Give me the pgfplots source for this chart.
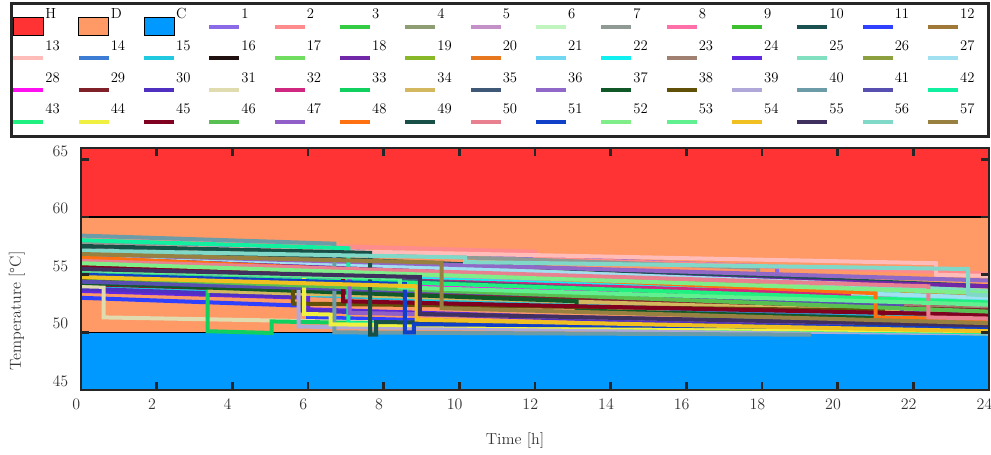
\documentclass[border=0pt]{standalone}
\usepackage{fontspec}
\usepackage{pgfplots}
\pgfplotsset{compat=1.18}
\definecolor{Hc}{HTML}{FF3333}
\definecolor{Dc}{HTML}{FF9966}
\definecolor{Cc}{HTML}{0099FF}
\definecolor{c1}{HTML}{8A6AE6}\definecolor{c2}{HTML}{FF8C8C}\definecolor{c3}{HTML}{33CC44}
\definecolor{c4}{HTML}{8E9E72}\definecolor{c5}{HTML}{C490C8}\definecolor{c6}{HTML}{C0F5C0}
\definecolor{c7}{HTML}{909A94}\definecolor{c8}{HTML}{FF70A8}\definecolor{c9}{HTML}{3CC030}
\definecolor{c10}{HTML}{1A5050}\definecolor{c11}{HTML}{3040FF}\definecolor{c12}{HTML}{A07838}
\definecolor{c13}{HTML}{FFBCB8}\definecolor{c14}{HTML}{3C7CD4}\definecolor{c15}{HTML}{20C8E0}
\definecolor{c16}{HTML}{201010}\definecolor{c17}{HTML}{70DC60}\definecolor{c18}{HTML}{7028A8}
\definecolor{c19}{HTML}{88B828}\definecolor{c20}{HTML}{E87820}\definecolor{c21}{HTML}{70D8F0}
\definecolor{c22}{HTML}{10F0F0}\definecolor{c23}{HTML}{A08070}\definecolor{c24}{HTML}{6028E0}
\definecolor{c25}{HTML}{80E0C0}\definecolor{c26}{HTML}{8CA040}\definecolor{c27}{HTML}{A0E0F0}
\definecolor{c28}{HTML}{FF10F0}\definecolor{c29}{HTML}{802028}\definecolor{c30}{HTML}{5030C0}
\definecolor{c31}{HTML}{E0DCB0}\definecolor{c32}{HTML}{D02880}\definecolor{c33}{HTML}{10D060}
\definecolor{c34}{HTML}{D4B860}\definecolor{c35}{HTML}{405878}\definecolor{c36}{HTML}{9068C8}
\definecolor{c37}{HTML}{105828}\definecolor{c38}{HTML}{605008}\definecolor{c39}{HTML}{B0A8D8}
\definecolor{c40}{HTML}{6C9CA8}\definecolor{c41}{HTML}{5850B0}\definecolor{c42}{HTML}{10F0A0}
\definecolor{c43}{HTML}{20F080}\definecolor{c44}{HTML}{F0F040}\definecolor{c45}{HTML}{800020}
\definecolor{c46}{HTML}{58C050}\definecolor{c47}{HTML}{9060C8}\definecolor{c48}{HTML}{FF7010}
\definecolor{c49}{HTML}{185048}\definecolor{c50}{HTML}{E88090}\definecolor{c51}{HTML}{1040C8}
\definecolor{c52}{HTML}{80EE88}\definecolor{c53}{HTML}{60F090}\definecolor{c54}{HTML}{F0C020}
\definecolor{c55}{HTML}{403060}\definecolor{c56}{HTML}{80D8C8}\definecolor{c57}{HTML}{988040}
\definecolor{axc}{HTML}{262626}
\newcommand{\LE}[1]{\raisebox{5.75pt}[15pt][8.75pt]{\makebox[23.5pt][l]{#1}}}
\newcommand{\LL}[1]{\raisebox{5.75pt}[15pt][8.75pt]{\makebox[21pt][l]{#1}}}
\newcommand{\ser}[3]{\addplot[#1, line width=3pt] coordinates {#2}; \addlegendentry{#3}}
\begin{document}
\begin{tikzpicture}
\path[use as bounding box] (-60.75pt,-48pt) rectangle (682.5pt,292.5pt);
\begin{axis}[
  at={(0pt,0pt)}, anchor=south west,
  scale only axis, width=681pt, height=181.5pt,
  xmin=0, xmax=24, ymin=45, ymax=66,
  xtick={0,2,...,24}, ytick={45,50,55,60,65},
  tick pos=both, tick align=inside, major tick length=6pt,
  axis on top,
  axis line style={draw=axc, line width=2pt},
  every tick/.style={draw=axc, line width=2pt},
  no markers,
  /pgf/number format/assume math mode=true,
  ticklabel style={font=\fontsize{12}{14}\selectfont, text=black!80},
  yticklabel style={yshift=6.5pt, xshift=-6pt},
  xticklabel style={xshift=-3.5pt, yshift=-3pt},
  xlabel={Time [h]}, ylabel={Temperature [°C]},
  label style={font=\fontsize{12}{14}\selectfont, text=black!80},
  x label style={at={(axis description cs:0.478,-0.207)}, anchor=center},
  y label style={at={(axis description cs:-0.0705,0.326)}, anchor=center},
  legend columns=15,
  legend style={at={(axis description cs:-0.0782,1.603)}, anchor=north west,
    draw=axc, line width=2.2pt, inner xsep=0pt, inner ysep=2.25pt,
    font=\fontsize{11}{13}\selectfont, column sep=0pt, row sep=0pt,
    nodes={inner sep=0pt, text depth=}, cells={anchor=base west}},
  legend image code/.code={\draw[#1, line width=3pt] (0pt,0pt) -- (22.5pt,0pt);},
]
\addplot[fill=Hc, draw=black, line width=1pt, legend image code/.code={\draw[fill=Hc, draw=black, line width=0.8pt] (0pt,-7pt) rectangle (22.5pt,7pt);}] coordinates {(0,60) (24,60) (24,66) (0,66) (0,60)};
\addlegendentry{\LE{H}}
\addplot[fill=Dc, draw=black, line width=1pt, legend image code/.code={\draw[fill=Dc, draw=black, line width=0.8pt] (0pt,-7pt) rectangle (22.5pt,7pt);}] coordinates {(0,50) (24,50) (24,60) (0,60) (0,50)};
\addlegendentry{\LE{D}}
\addplot[fill=Cc, draw=black, line width=1pt, legend image code/.code={\draw[fill=Cc, draw=black, line width=0.8pt] (0pt,-7pt) rectangle (22.5pt,7pt);}] coordinates {(0,45) (24,45) (24,50) (0,50) (0,45)};
\addlegendentry{\LE{C}}
\ser{c1}{(0,57.9)(18.4,55.7)(18.4,54.6)(24,54.0)}{\LE{1}}
\ser{c2}{(0,58.1)(12,57.0)(12,56.4)(24,55.1)}{\LE{2}}
\ser{c3}{(0,55.3)(16.1,53.3)(16.1,51.7)(24,50.9)}{\LE{3}}
\ser{c4}{(0,56.0)(17.8,53.7)(17.8,52.0)(24,51.4)}{\LE{4}}
\ser{c5}{(0,55.8)(24,52.9)}{\LE{5}}
\ser{c6}{(0,55.0)(24,52.2)}{\LE{6}}
\ser{c7}{(0,57.7)(17.9,55.6)(17.9,52.6)(24,52.0)}{\LE{7}}
\ser{c8}{(0,56.3)(17.2,54.4)(17.2,53.6)(24,53.0)}{\LE{8}}
\ser{c9}{(0,54.6)(16.0,52.7)(16.0,51.5)(24,50.6)}{\LE{9}}
\ser{c10}{(0,57.3)(24,54.0)}{\LE{10}}
\ser{c11}{(0,53.0)(6.0,52.3)(6.0,51.3)(22.6,50.0)}{\LE{11}}
\ser{c12}{(0,56.6)(15.3,54.7)(15.3,53.2)(24,52.0)}{\LL{12}}
\ser{c13}{(0,57.5)(22.6,56.0)(22.6,55.0)(24,54.9)}{\LE{13}}
\ser{c14}{(0,54.0)(24,51.0)}{\LE{14}}
\ser{c15}{(0,53.9)(24,51.3)}{\LE{15}}
\ser{c16}{(0,55.0)(0.3,54.95)(0.3,55.6)(14.2,53.7)(14.2,52.8)(24,51.6)}{\LE{16}}
\ser{c17}{(0,55.6)(24,52.5)}{\LE{17}}
\ser{c18}{(0,56.4)(24,54.0)}{\LE{18}}
\ser{c19}{(0,54.8)(24,51.9)}{\LE{19}}
\ser{c20}{(0,56.3)(24,53.3)}{\LE{20}}
\ser{c21}{(0,56.1)(21.6,53.6)(21.6,53.0)(24,52.7)}{\LE{21}}
\ser{c22}{(0,55.6)(24,53.0)}{\LE{22}}
\ser{c23}{(0,55.1)(15.2,53.4)(15.2,52.8)(24,52.0)}{\LE{23}}
\ser{c24}{(0,53.6)(6.0,53.0)(6.0,52.0)(24,50.2)}{\LE{24}}
\ser{c25}{(0,57.0)(24,53.6)}{\LE{25}}
\ser{c26}{(0,54.4)(24,51.4)}{\LE{26}}
\ser{c27}{(0,56.8)(20.4,54.2)(20.4,53.4)(24,53.0)}{\LL{27}}
\ser{c28}{(0,54.5)(12,53.9)(24,51.7)}{\LE{28}}
\ser{c29}{(0,54.2)(12,53.0)(24,51.9)}{\LE{29}}
\ser{c30}{(0,53.8)(5.8,53.1)(5.8,51.9)(24,50.1)}{\LE{30}}
\ser{c31}{(0,54.0)(0.6,53.95)(0.6,51.3)(24,49.9)}{\LE{31}}
\ser{c32}{(0,55.4)(20.3,53.3)(20.3,52.7)(24,52.4)}{\LE{32}}
\ser{c33}{(0,54.9)(3.35,54.7)(3.35,50.1)(5.04,49.95)(5.04,50.95)(24,49.9)}{\LE{33}}
\ser{c34}{(0,54.3)(3.4,54.0)(3.4,53.6)(24,51.6)}{\LE{34}}
\ser{c35}{(0,55.7)(14.2,53.7)(24,52.5)}{\LE{35}}
\ser{c36}{(0,56.8)(24,54.5)}{\LE{36}}
\ser{c37}{(0,54.3)(13.1,52.7)(13.1,51.9)(24,51.0)}{\LE{37}}
\ser{c38}{(0,54.6)(5.6,54.2)(5.6,52.5)(21.2,51.9)(21.2,51.2)(24,51.1)}{\LE{38}}
\ser{c39}{(0,55.0)(5.75,54.4)(5.75,50.5)(24,49.9)}{\LE{39}}
\ser{c40}{(0,58.4)(6.7,57.7)(6.7,50.0)(19.3,49.8)}{\LE{40}}
\ser{c41}{(0,54.4)(21.7,52.4)(21.7,51.7)(24,51.5)}{\LE{41}}
\ser{c42}{(0,58.0)(7.07,57.3)(7.07,50.8)(24,50.0)}{\LL{42}}
\ser{c43}{(0,55.3)(24,52.6)}{\LE{43}}
\ser{c44}{(0,56.0)(5.9,55.6)(5.9,51.6)(6.6,51.55)(6.6,50.7)(24,50.1)}{\LE{44}}
\ser{c45}{(0,55.8)(6.93,55.2)(6.93,52.7)(24,51.5)}{\LE{45}}
\ser{c46}{(0,54.8)(24,51.8)}{\LE{46}}
\ser{c47}{(0,55.4)(7.1,54.8)(7.1,51.7)(24,50.6)}{\LE{47}}
\ser{c48}{(0,56.5)(21.0,53.4)(21.0,51.3)(24,51.1)}{\LE{48}}
\ser{c49}{(0,57.5)(7.64,56.9)(7.64,49.8)(7.8,49.8)(7.8,50.9)(24,50.3)}{\LE{49}}
\ser{c50}{(0,56.2)(22.4,54.0)(22.4,51.3)(24,51.2)}{\LE{50}}
\ser{c51}{(0,55.0)(8.56,54.2)(8.56,50.0)(8.8,50.0)(8.8,50.7)(24,50.4)}{\LE{51}}
\ser{c52}{(0,56.0)(24,53.4)}{\LE{52}}
\ser{c53}{(0,55.4)(8.43,54.7)(8.43,53.9)(24,52.4)}{\LE{53}}
\ser{c54}{(0,54.8)(8.87,54.0)(8.87,51.1)(24,50.1)}{\LE{54}}
\ser{c55}{(0,55.5)(8.96,54.8)(8.96,51.6)(24,50.6)}{\LE{55}}
\ser{c56}{(0,57.1)(10.15,56.5)(10.15,56.1)(23.45,55.5)(23.45,53.3)(24,53.2)}{\LE{56}}
\ser{c57}{(0,56.8)(9.53,56.05)(9.53,52.1)(24,50.8)}{\LL{57}}
\end{axis}
\end{tikzpicture}
\end{document}
